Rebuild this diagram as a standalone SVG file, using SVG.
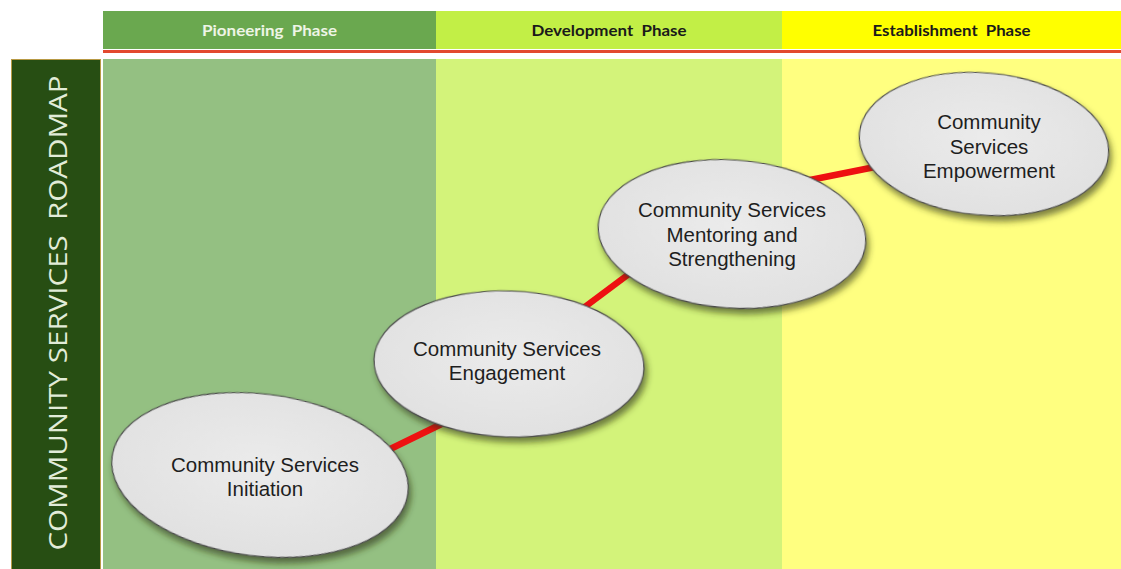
<svg xmlns="http://www.w3.org/2000/svg" width="1121" height="569" viewBox="0 0 1121 569">
<style>
.hdr{font-family:Lato,"Open Sans","DejaVu Sans",sans-serif;font-weight:bold;font-size:16px;text-anchor:middle;white-space:pre}
.node ellipse{fill:url(#g);stroke:#4a4a4a;stroke-width:1.2;filter:url(#sh)}
.node text{font-family:"Liberation Sans",Arial,sans-serif;font-size:20.5px;fill:#1e1e1e;text-anchor:middle}
.conn line{stroke:#ee1111;stroke-width:6.5}
</style>
<defs>
<radialGradient id="g" cx="50%" cy="45%" r="60%">
<stop offset="0" stop-color="#ebebeb"/>
<stop offset="1" stop-color="#e0e0e0"/>
</radialGradient>
<filter id="sh" x="-20%" y="-20%" width="140%" height="150%">
<feDropShadow dx="3" dy="5" stdDeviation="3" flood-color="#2a3010" flood-opacity="0.6"/>
</filter>
</defs>
<rect width="1121" height="569" fill="#ffffff"/>
<g id="header">
<rect x="103" y="11" width="333" height="38" fill="#6aa84f"/>
<rect x="436" y="11" width="346" height="38" fill="#c2ef46"/>
<rect x="782" y="11" width="339" height="38" fill="#ffff00"/>
<rect x="103" y="50" width="1018" height="3" fill="#e2492f"/>
<text class="hdr" x="269.5" y="36" fill="#eef5e6" textLength="135" lengthAdjust="spacingAndGlyphs">Pioneering  Phase</text>
<text class="hdr" x="609" y="36" fill="#1a1a1a" textLength="155" lengthAdjust="spacingAndGlyphs">Development  Phase</text>
<text class="hdr" x="951.5" y="36" fill="#1a1a1a" textLength="158" lengthAdjust="spacingAndGlyphs">Establishment  Phase</text>
</g>
<g id="body">
<rect x="103" y="59" width="333" height="510" fill="#94c082"/>
<rect x="436" y="59" width="346" height="510" fill="#d3f37a"/>
<rect x="782" y="59" width="339" height="510" fill="#ffff80"/>
</g>
<g id="title">
<rect x="11.5" y="59.5" width="89" height="512" fill="#274e13" stroke="#b89a45" stroke-width="1"/>
<text transform="translate(67,313) rotate(-90)" x="0" y="0" text-anchor="middle" font-family="'Open Sans','DejaVu Sans',sans-serif" font-size="25" fill="#e2ecd8" style="white-space:pre" textLength="475" lengthAdjust="spacingAndGlyphs">COMMUNITY SERVICES  ROADMAP</text>
</g>
<g id="connectors" class="conn">
<line x1="380" y1="454" x2="460" y2="415"/>
<line x1="570" y1="318" x2="645" y2="262"/>
<line x1="800" y1="182" x2="880" y2="166"/>
</g>
<g id="n1" class="node">
<ellipse cx="260" cy="475" rx="149" ry="81" transform="rotate(7 260 475)"/>
<text x="265" y="472">Community Services</text>
<text x="265" y="496">Initiation</text>
</g>
<g id="n2" class="node">
<ellipse cx="509" cy="364" rx="135" ry="73" transform="rotate(2 509 364)"/>
<text x="507" y="356">Community Services</text>
<text x="507" y="380">Engagement</text>
</g>
<g id="n3" class="node">
<ellipse cx="732" cy="234" rx="134" ry="74" transform="rotate(4 732 234)"/>
<text x="732" y="217">Community Services</text>
<text x="732" y="242">Mentoring and</text>
<text x="732" y="266">Strengthening</text>
</g>
<g id="n4" class="node">
<ellipse cx="984" cy="144" rx="125" ry="71" transform="rotate(5 984 144)"/>
<text x="989" y="129">Community</text>
<text x="989" y="154">Services</text>
<text x="989" y="178">Empowerment</text>
</g>
</svg>
